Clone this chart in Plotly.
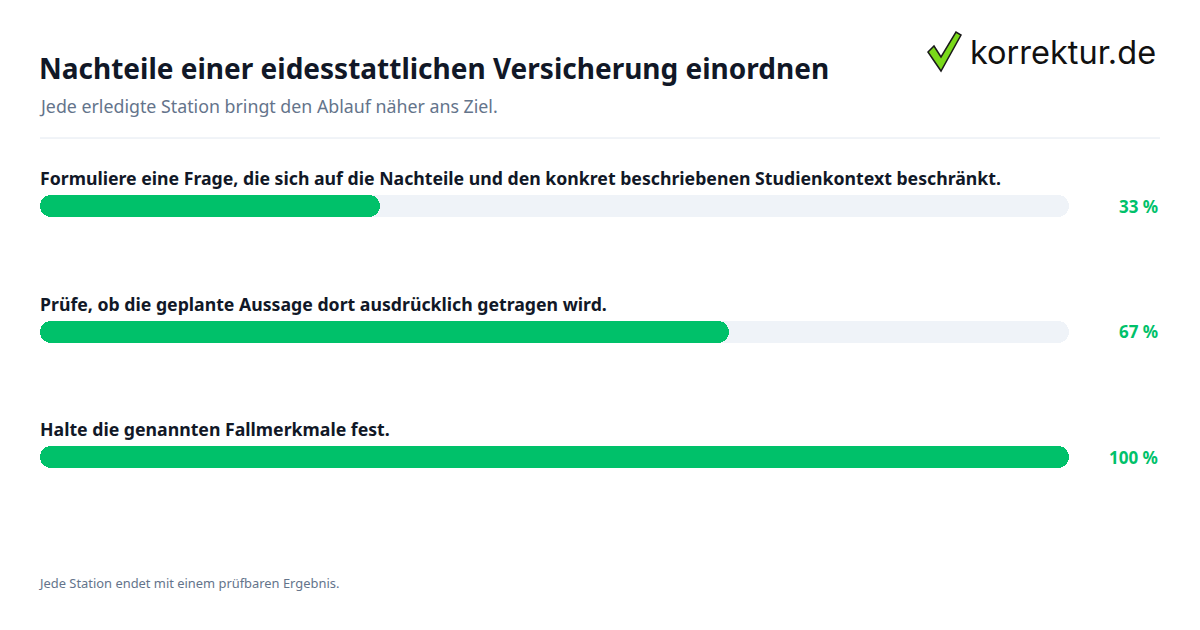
import plotly.graph_objects as go

# ---- data ----
steps = [
    "Formuliere eine Frage, die sich auf die Nachteile und den konkret beschriebenen Studienkontext beschränkt.",
    "Prüfe, ob die geplante Aussage dort ausdrücklich getragen wird.",
    "Halte die genannten Fallmerkmale fest.",
]
progress = [33, 67, 100]
pct_labels = ["33 %", "67 %", "100 %"]
track_max = 100

title = "Nachteile einer eidesstattlichen Versicherung einordnen"
subtitle = "Jede erledigte Station bringt den Ablauf näher ans Ziel."
footer = "Jede Station endet mit einem prüfbaren Ergebnis."

# ---- layout constants (page has an 8px body margin, compensated here) ----
OFF = 8
W, H = 1200 - OFF, 630 - OFF
PLOT_LEFT, PLOT_RIGHT, PLOT_TOP, PLOT_BOTTOM = 40, 1069, 150, 520
L = PLOT_LEFT - OFF
T = PLOT_TOP - OFF
R = W - (PLOT_RIGHT - OFF)
B = H - (PLOT_BOTTOM - OFF)
plot_w = W - L - R
plot_h = H - T - B
row_px = 125.5
bar_px = 22
y_min = -(206 - PLOT_TOP) / row_px
y_max = y_min + plot_h / row_px
bar_w = bar_px / row_px

GREEN = "#00c16a"
TRACK = "#eff3f8"
DARK = "#111827"
MUTED = "#64748b"
FONT = "Noto Sans"

def px_x(x):
    return (x - OFF - L) / plot_w

def px_y(y):
    return (H - B - (y - OFF)) / plot_h

ys = list(range(len(steps)))

fig = go.Figure()

def stadium(values, color):
    fig.add_trace(go.Bar(
        orientation="h", y=ys, x=values, base=[0] * len(values), width=bar_w,
        marker=dict(color=color, line=dict(width=0), cornerradius="50%"),
        hoverinfo="skip", showlegend=False,
    ))

stadium([track_max] * len(steps), TRACK)
stadium(progress, GREEN)

annotations = []
for i, (s, p) in enumerate(zip(steps, pct_labels)):
    annotations.append(dict(
        x=0, y=i, xref="x", yref="y", text=f"<b>{s}</b>", showarrow=False,
        xanchor="left", yanchor="middle", yshift=28, xshift=-2,
        font=dict(family=FONT, size=17.7, color=DARK),
    ))
    annotations.append(dict(
        x=px_x(1160), y=i, xref="paper", yref="y", text=f"<b>{p}</b>", showarrow=False,
        xanchor="right", yanchor="middle",
        font=dict(family=FONT, size=17, color=GREEN),
    ))

annotations += [
    dict(x=px_x(37), y=px_y(68), xref="paper", yref="paper", text=f"<b>{title}</b>",
         showarrow=False, xanchor="left", yanchor="middle",
         font=dict(family=FONT, size=28, color=DARK)),
    dict(x=px_x(37), y=px_y(106), xref="paper", yref="paper", text=subtitle,
         showarrow=False, xanchor="left", yanchor="middle",
         font=dict(family=FONT, size=17.8, color=MUTED)),
    dict(x=px_x(37), y=px_y(583), xref="paper", yref="paper", text=footer,
         showarrow=False, xanchor="left", yanchor="middle",
         font=dict(family=FONT, size=12.9, color=MUTED)),
    dict(x=px_x(1158), y=px_y(52), xref="paper", yref="paper", text="korrektur.de",
         showarrow=False, xanchor="right", yanchor="middle",
         font=dict(family="Inter", size=32.5, color="#111111")),
]

check = [(928, 52), (934, 46), (941, 57), (956, 32), (961, 35), (941, 71)]
path = "M " + " L ".join(f"{px_x(x):.5f},{px_y(y):.5f}" for x, y in check) + " Z"

shapes = [
    dict(type="line", xref="paper", yref="paper", x0=px_x(40), x1=px_x(1160),
         y0=px_y(138), y1=px_y(138), line=dict(color="#e2e8f0", width=1)),
    dict(type="path", xref="paper", yref="paper", path=path,
         fillcolor="#7ad91a", line=dict(color="#1a1a1a", width=1.5)),
]

fig.update_layout(
    width=W, height=H, autosize=False,
    margin=dict(l=L, r=R, t=T, b=B, pad=0),
    paper_bgcolor="white", plot_bgcolor="white",
    barmode="overlay", bargap=0,
    xaxis=dict(range=[0, track_max], visible=False, fixedrange=True),
    yaxis=dict(range=[y_max, y_min], visible=False, fixedrange=True),
    annotations=annotations, shapes=shapes,
    font=dict(family=FONT),
)

fig.write_html("out.html")
